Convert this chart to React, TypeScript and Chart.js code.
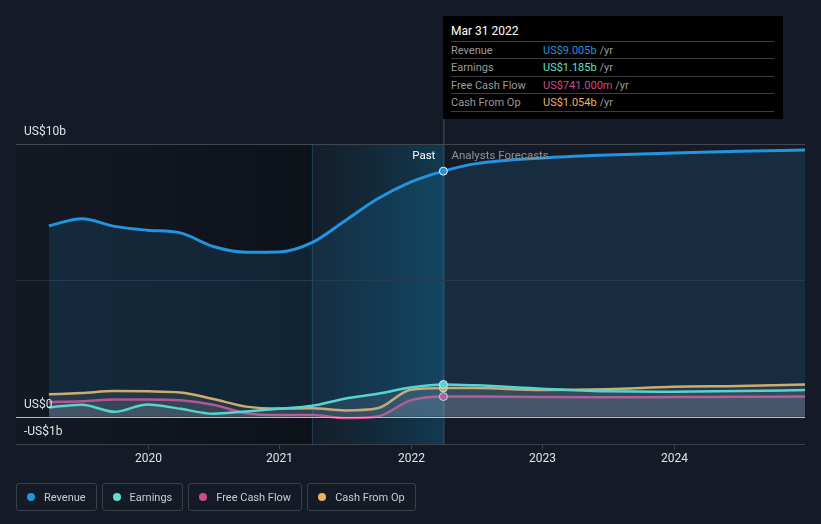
import React, { useEffect, useRef } from "react";
import { Chart, registerables } from "chart.js";

Chart.register(...registerables);

// ---- data (US$ billions, dates as decimal years) ----
const dates = [2019.25, 2019.5, 2019.75, 2020.0, 2020.25, 2020.5, 2020.75, 2021.0, 2021.25, 2021.5, 2021.75, 2022.0, 2022.25, 2022.5, 2023.0, 2023.5, 2024.0, 2024.5, 2025.0];
const revenue = [7.0, 7.26, 6.98, 6.84, 6.74, 6.24, 6.03, 6.04, 6.38, 7.18, 7.99, 8.6, 9.005, 9.28, 9.49, 9.6, 9.67, 9.73, 9.78];
const earnings = [0.34, 0.44, 0.18, 0.45, 0.29, 0.11, 0.19, 0.29, 0.4, 0.66, 0.84, 1.07, 1.185, 1.15, 1.03, 0.93, 0.92, 0.94, 0.98];
const freeCashFlow = [0.54, 0.57, 0.63, 0.63, 0.6, 0.44, 0.13, 0.06, 0.06, -0.05, 0.01, 0.6, 0.741, 0.74, 0.72, 0.71, 0.72, 0.73, 0.74];
const cashFromOp = [0.82, 0.87, 0.94, 0.93, 0.89, 0.65, 0.37, 0.3, 0.31, 0.23, 0.31, 0.99, 1.054, 1.05, 0.98, 1.01, 1.1, 1.13, 1.18];

const seriesNames = ["Revenue", "Earnings", "Free Cash Flow", "Cash From Op"];
const seriesColors = ["#2394df", "#5fe0cf", "#cc4c88", "#e9b25e"];
const tooltipDate = "Mar 31 2022";
const tooltipValues = ["US$9.005b", "US$1.185b", "US$741.000m", "US$1.054b"];

const yTickValues = [10, 0, -1];
const yTickLabels = ["US$10b", "US$0", "-US$1b"];
const yGridValues = [10, 5];
const xTickValues = [2020, 2021, 2022, 2023, 2024];
const xTickLabels = ["2020", "2021", "2022", "2023", "2024"];
const pastDate = 2022.25;
const highlightStart = 2021.25;
const xMin = 2019;
const xMax = 2025;
const yMin = -1;
const yMax = 10;

const FONT = "Roboto, 'Open Sans', sans-serif";
const PAST_INDEX = dates.indexOf(pastDate);

const decorPlugin = {
  id: "decor",
  beforeDatasetsDraw(chart: any) {
    const { ctx, chartArea, scales } = chart;
    const x = scales.x;
    const y = scales.y;
    const top = chartArea.top;
    const bottom = chartArea.bottom;
    const left = chartArea.left;
    const hx = x.getPixelForValue(highlightStart);
    const px = x.getPixelForValue(pastDate);
    ctx.save();
    let g = ctx.createLinearGradient(left, 0, hx, 0);
    g.addColorStop(0, "rgba(0,0,0,0.05)");
    g.addColorStop(1, "rgba(0,0,0,0.34)");
    ctx.fillStyle = g;
    ctx.fillRect(left, top, hx - left, bottom - top);
    g = ctx.createLinearGradient(hx, 0, px, 0);
    g.addColorStop(0, "rgba(10,110,150,0.04)");
    g.addColorStop(1, "rgba(10,130,175,0.3)");
    ctx.fillStyle = g;
    ctx.fillRect(hx, top, px - hx, bottom - top);
    ctx.strokeStyle = "rgba(40,90,115,0.6)";
    ctx.lineWidth = 1;
    ctx.beginPath();
    ctx.moveTo(hx + 0.5, top);
    ctx.lineTo(hx + 0.5, bottom);
    ctx.stroke();
    ctx.strokeStyle = "rgba(70,100,120,0.8)";
    ctx.beginPath();
    ctx.moveTo(px + 0.5, 16);
    ctx.lineTo(px + 0.5, bottom);
    ctx.stroke();
    yGridValues.forEach((v) => {
      const yy = Math.round(y.getPixelForValue(v)) + 0.5;
      ctx.strokeStyle = v === 10 ? "#41464f" : "#262d38";
      ctx.beginPath();
      ctx.moveTo(left, yy);
      ctx.lineTo(chartArea.right, yy);
      ctx.stroke();
    });
    ctx.restore();
  },
  afterDatasetsDraw(chart: any) {
    const { ctx, chartArea, scales } = chart;
    const x = scales.x;
    const y = scales.y;
    ctx.save();
    const zy = Math.round(y.getPixelForValue(0)) + 0.5;
    ctx.strokeStyle = "#b8bcc2";
    ctx.lineWidth = 1;
    ctx.beginPath();
    ctx.moveTo(chartArea.left, zy);
    ctx.lineTo(chartArea.right, zy);
    ctx.stroke();
    const by = Math.round(chartArea.bottom) + 0.5;
    ctx.strokeStyle = "#3c414a";
    ctx.beginPath();
    ctx.moveTo(chartArea.left, by);
    ctx.lineTo(chartArea.right, by);
    ctx.stroke();
    ctx.font = `12px ${FONT}`;
    ctx.fillStyle = "#e0e2e5";
    ctx.textAlign = "center";
    ctx.textBaseline = "middle";
    xTickValues.forEach((v, i) => {
      const xx = Math.round(x.getPixelForValue(v)) + 0.5;
      ctx.beginPath();
      ctx.moveTo(xx, by);
      ctx.lineTo(xx, by + 5);
      ctx.stroke();
      ctx.fillText(xTickLabels[i], xx, by + 14);
    });
    ctx.textAlign = "left";
    ctx.fillStyle = "#e0e2e5";
    yTickValues.forEach((v, i) => {
      ctx.fillText(yTickLabels[i], chartArea.left + 8, y.getPixelForValue(v) - 12);
    });
    const px = x.getPixelForValue(pastDate);
    ctx.font = `11.5px ${FONT}`;
    ctx.textAlign = "right";
    ctx.fillStyle = "#ffffff";
    ctx.fillText("Past", px - 8, chartArea.top + 12);
    ctx.textAlign = "left";
    ctx.fillStyle = "#8d929a";
    ctx.fillText("Analysts Forecasts", px + 8, chartArea.top + 12);
    ctx.restore();
  },
};

function mk(values: number[], i: number, fillColor: string, width: number) {
  return {
    label: seriesNames[i],
    data: dates.map((d, k) => ({ x: d, y: values[k] })),
    borderColor: seriesColors[i],
    backgroundColor: fillColor,
    borderWidth: width,
    fill: "origin",
    cubicInterpolationMode: "monotone" as const,
    pointRadius: (c: any) => (c.dataIndex === PAST_INDEX ? 4 : 0),
    pointBackgroundColor: seriesColors[i],
    pointBorderColor: "#e8ecf0",
    pointBorderWidth: 1,
    pointHoverRadius: 0,
  };
}

export default function App() {
  const ref = useRef<HTMLCanvasElement | null>(null);
  useEffect(() => {
    if (!ref.current) return;
    const chart = new Chart(ref.current, {
      type: "line",
      data: {
        datasets: [
          mk(revenue, 0, "rgba(35,148,223,0.14)", 3),
          mk(earnings, 1, "rgba(160,165,175,0.15)", 2.5),
          mk(freeCashFlow, 2, "rgba(180,160,180,0.15)", 2.5),
          mk(cashFromOp, 3, "rgba(160,160,160,0.13)", 2.5),
        ],
      },
      options: {
        responsive: false,
        animation: false,
        layout: { padding: { left: 16, right: 16, top: 144, bottom: 80 } },
        plugins: { legend: { display: false }, tooltip: { enabled: false } },
        events: [],
        scales: {
          x: { type: "linear", min: xMin, max: xMax, display: false },
          y: { type: "linear", min: yMin, max: yMax, display: false },
        },
      },
      plugins: [decorPlugin],
    });
    return () => chart.destroy();
  }, []);

  return (
    <div style={{ position: "fixed", left: 0, top: 0, width: 821, height: 524, background: "#151b26", fontFamily: FONT, overflow: "hidden" }}>
      <canvas ref={ref} width={821} height={524} style={{ position: "absolute", left: 0, top: 0, width: 821, height: 524 }} />
      <div style={{ position: "absolute", left: 443, top: 16, width: 340, height: 103, background: "#000", fontSize: 11 }}>
        <div style={{ position: "absolute", left: 8, top: 8, color: "#fff", lineHeight: "14px", fontSize: 12 }}>{tooltipDate}</div>
        {seriesNames.map((n, i) => (
          <div key={n} style={{ position: "absolute", left: 8, top: 25 + i * 17.4, width: 323, height: 17, borderTop: "1px solid #3e3e3e", lineHeight: "17px" }}>
            <span style={{ position: "absolute", left: 0, color: "#9a9a9a" }}>{n}</span>
            <span style={{ position: "absolute", left: 92, color: seriesColors[i], whiteSpace: "nowrap" }}>
              {tooltipValues[i]}
              <span style={{ color: "#9a9a9a" }}> /yr</span>
            </span>
          </div>
        ))}
        <div style={{ position: "absolute", left: 8, top: 95, width: 323, borderTop: "1px solid #3e3e3e" }} />
      </div>
      <div style={{ position: "absolute", left: 16, top: 483, display: "flex", gap: 5 }}>
        {seriesNames.map((n, i) => (
          <div key={n} style={{ boxSizing: "border-box", height: 28, border: "1px solid #3a3f48", borderRadius: 3, display: "flex", alignItems: "center", paddingLeft: 10, paddingRight: 10, color: "#c9ccd1", fontSize: 11 }}>
            <span style={{ width: 8, height: 8, borderRadius: 4, background: seriesColors[i], marginRight: 9, display: "inline-block", flexShrink: 0 }} />
            {n}
          </div>
        ))}
      </div>
    </div>
  );
}
